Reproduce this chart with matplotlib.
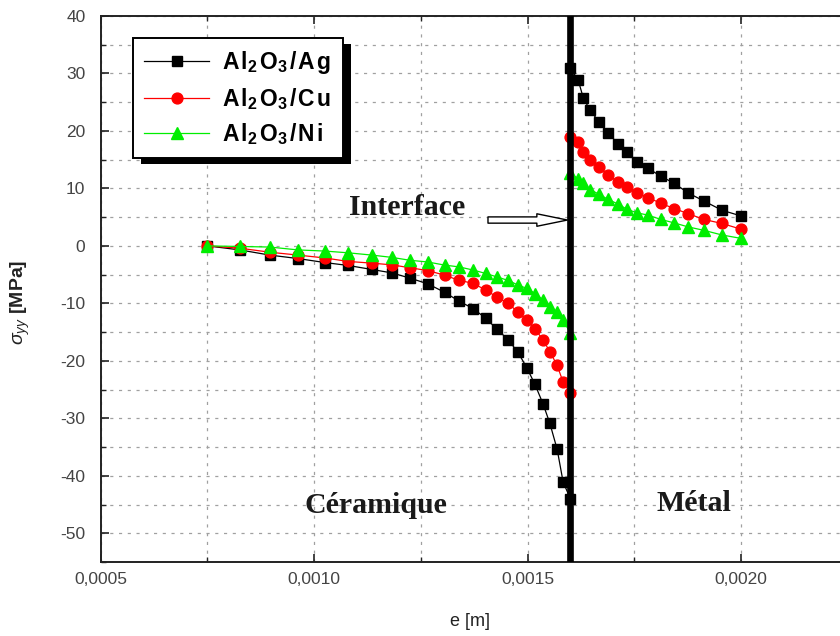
import matplotlib
matplotlib.use("Agg")
import matplotlib.pyplot as plt
from matplotlib.patches import Rectangle
from matplotlib.ticker import MultipleLocator, FuncFormatter

plt.rcParams["font.family"] = ["Liberation Sans", "DejaVu Sans"]
plt.rcParams["axes.unicode_minus"] = False
plt.rcParams["mathtext.fontset"] = "custom"
plt.rcParams["mathtext.rm"] = "Liberation Sans"
plt.rcParams["mathtext.it"] = "Liberation Sans:italic"
plt.rcParams["mathtext.bf"] = "Liberation Sans:bold"

# Thickness coordinate e [m] (ceramic side, then metal side of the interface)
e_ceramic = [0.00075, 0.000826, 0.000896, 0.000962, 0.001025, 0.001079, 0.001135,
             0.001182, 0.001224, 0.001266, 0.001306, 0.001339, 0.001372, 0.001402,
             0.001428, 0.001454, 0.001477, 0.001498, 0.001517, 0.001536, 0.001552,
             0.001569, 0.001583, 0.0016]
e_metal = [0.0016, 0.001618, 0.00163, 0.001646, 0.001667, 0.001688, 0.001711,
           0.001733, 0.001756, 0.001782, 0.001812, 0.001843, 0.001876, 0.001913,
           0.001955, 0.002]

# sigma_yy [MPa]
ag_ceramic = [0, -0.7, -1.6, -2.2, -2.9, -3.4, -4.1, -4.7, -5.6, -6.6, -8.1, -9.6,
              -10.9, -12.6, -14.5, -16.3, -18.5, -21.2, -24.1, -27.5, -30.9, -35.4,
              -41.1, -44.0]
cu_ceramic = [0, -0.4, -1.1, -1.6, -2.1, -2.7, -3.0, -3.3, -3.8, -4.3, -5.1, -6.0,
              -6.5, -7.7, -8.9, -10.0, -11.5, -12.9, -14.4, -16.4, -18.4, -20.8,
              -23.7, -25.6]
ni_ceramic = [0, -0.1, -0.2, -0.7, -0.9, -1.2, -1.6, -2.0, -2.5, -2.8, -3.35, -3.65,
              -4.2, -4.8, -5.4, -6.0, -6.8, -7.4, -8.3, -9.4, -10.6, -11.5, -12.9,
              -15.2]
ag_metal = [30.9, 28.9, 25.8, 23.6, 21.6, 19.7, 17.8, 16.4, 14.6, 13.5, 12.1, 10.9,
            9.2, 7.8, 6.2, 5.2]
cu_metal = [19.0, 18.1, 16.4, 14.9, 13.8, 12.3, 11.2, 10.3, 9.2, 8.4, 7.4, 6.5, 5.6,
            4.6, 3.9, 2.9]
ni_metal = [12.6, 11.7, 10.9, 9.8, 9.0, 8.1, 7.3, 6.35, 5.75, 5.35, 4.6, 4.0, 3.3,
            2.7, 1.9, 1.3]

metals = ["Ag", "Cu", "Ni"]
interface_e = 0.0016


def spaced_label(metal, gap=0.12):
    """Bold Al2O3/<metal> label with slightly open letter spacing."""
    sp = r"\hspace{%g}" % gap
    m = sp.join(metal)
    return r"$\mathbf{A" + sp + "l_2" + sp + "O_3" + sp + "/" + sp + m + "}$"


labels = [spaced_label(m) for m in metals]

W, H = 840, 636
fig = plt.figure(figsize=(W / 100, H / 100), dpi=100)
ax_left, ax_right, ax_top, ax_bottom = 100.7, 840, 16, 562
ax = fig.add_axes([ax_left / W, 1 - ax_bottom / H,
                   (ax_right - ax_left) / W, (ax_bottom - ax_top) / H])

ax.set_xlim(0.0005, 0.0005 + (ax_right - ax_left) / 427000)
ax.set_ylim(-55, 40)

series = [
    (ag_ceramic, ag_metal, "black", "s", 7.8),
    (cu_ceramic, cu_metal, "#ff0000", "o", 7.8),
    (ni_ceramic, ni_metal, "#00ee00", "^", 8.3),
]
handles = []
for (yc, ym, col, mk, ms), lab in zip(series, labels):
    h, = ax.plot(e_ceramic, yc, color=col, marker=mk, ms=ms, lw=0.9,
                 mec=col, mfc=col, label=lab, zorder=3)
    ax.plot(e_metal, ym, color=col, marker=mk, ms=ms, lw=0.9,
            mec=col, mfc=col, zorder=3)
    handles.append(h)

ax.axvline(interface_e, color="black", lw=4.8, zorder=4)

# Axes styling
for side in ["left", "bottom", "top"]:
    ax.spines[side].set_linewidth(1.4)
    ax.spines[side].set_color("#222222")
ax.spines["right"].set_visible(False)

ax.xaxis.set_major_locator(MultipleLocator(0.0005))
ax.xaxis.set_minor_locator(MultipleLocator(0.00025))
ax.yaxis.set_major_locator(MultipleLocator(10))
ax.yaxis.set_minor_locator(MultipleLocator(5))
ax.xaxis.set_major_formatter(FuncFormatter(lambda v, p: f"{v:.4f}".replace(".", ",")))
ax.yaxis.set_major_formatter(FuncFormatter(lambda v, p: f"{v:.0f}"))

ax.tick_params(which="both", direction="in", top=True, right=False,
               colors="#222222", labelcolor="#444444")
ax.tick_params(which="major", length=6, width=1.2, labelsize=12.5)
ax.tick_params(which="minor", length=3.5, width=1.0)
ax.tick_params(axis="x", pad=7)
ax.tick_params(axis="y", pad=11)

ax.grid(True, which="both", color="#a0a0a0", linestyle=(0, (2.5, 4.5)), lw=0.9)
ax.set_axisbelow(True)

# Axis titles
fig.text(470 / W, 1 - 622 / H, "e [m]", ha="center", va="center",
         fontsize=13, color="#222222")
fig.text(20 / W, 1 - 302 / H, r"$\sigma_{yy}$ [MPa]", ha="center", va="center",
         rotation=90, fontsize=14, fontweight="bold", color="#222222")

# Region annotations
serif = dict(family=["Liberation Serif", "DejaVu Serif"], fontweight="bold",
             fontsize=21.5, color="#1a1a1a", ha="center", va="center")
ax.text(0.001217, 6.6, "Interface", **serif)
ax.text(0.001145, -45.1, "Céramique", **serif)
ax.text(0.001889, -44.8, "Métal", **serif)

ax.annotate("", xy=(0.001593, 4.5), xytext=(0.001407, 4.5),
            arrowprops=dict(arrowstyle="simple,head_length=2.2,head_width=0.9,tail_width=0.45",
                            fc="white", ec="black", lw=1.0, mutation_scale=10,
                            shrinkA=0, shrinkB=0), zorder=5)

# Legend with a solid offset shadow
leg = ax.legend(handles=handles, loc="upper left",
                bbox_to_anchor=((132.7 - ax_left) / (ax_right - ax_left),
                                (ax_bottom - 38) / (ax_bottom - ax_top)),
                borderaxespad=0, fontsize=16.5, numpoints=1, handlelength=2.85,
                handletextpad=0.55, labelspacing=0.4, borderpad=0.5,
                fancybox=False, framealpha=1, edgecolor="black",
                markerscale=1.0)
leg.get_frame().set_linewidth(1.4)
leg.set_zorder(10)

fig.canvas.draw()
bb = leg.get_window_extent()
shadow = Rectangle((bb.x0 + 8, bb.y0 - 6), bb.width, bb.height,
                   transform=None, facecolor="black", edgecolor="none", zorder=9)
ax.add_artist(shadow)

fig.savefig("out.png", dpi=100)
